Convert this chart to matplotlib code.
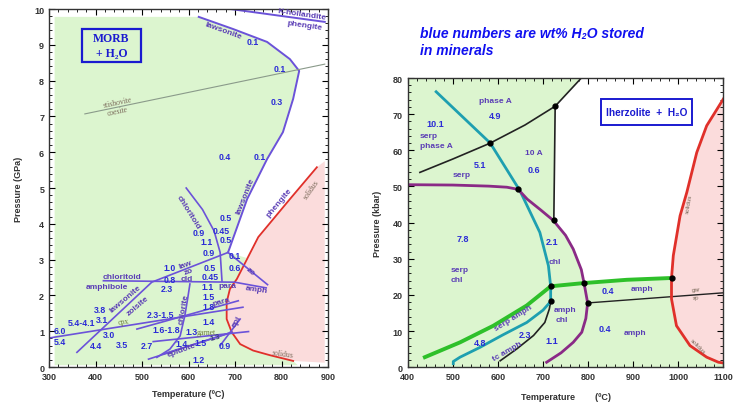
import matplotlib
matplotlib.use("Agg")
import matplotlib.pyplot as plt
from matplotlib.patches import Rectangle
from matplotlib.ticker import MultipleLocator

plt.rcParams['font.family'] = ['Liberation Sans', 'DejaVu Sans']

AZUL = '#2b2bd6'
VIOLETA = '#5a3db5'
LINEA = '#6b52d9'
ROJO = '#e0302a'
OLIVA = '#6b7a3a'
GRIS = '#7a6a5a'
VERDE_FONDO = '#dcf5cf'
ROSA_FONDO = '#fbdcdc'

# ---------------- panel izquierdo: MORB + H2O (T en ºC, P en GPa) ----------------
law_T = [622, 696, 769, 818, 838, 825, 803, 769, 726, 685]
law_P = [9.78, 9.44, 9.08, 8.60, 8.27, 7.49, 6.56, 5.81, 4.69, 3.20]
khol_T = [690, 893]
khol_P = [10.0, 9.64]
stish_T = [377, 893]
stish_P = [7.07, 8.46]
sol_T = [876, 818, 750, 726, 704, 689, 682, 682, 693, 711, 739, 775, 825]
sol_P = [5.58, 4.69, 3.63, 3.02, 2.46, 2.18, 1.81, 1.34, 0.97, 0.64, 0.46, 0.33, 0.17]

# reacciones (lineas violetas)
reac_T = [
    [300, 717],                  # cpx
    [360, 521, 685],             # lawsonita / zoisita
    [417, 699, 767],             # cloritoide / anfibol
    [685, 770],                  # zo
    [595, 630, 655, 668, 672],   # cloritoide
    [603, 598, 592, 582, 560, 532],  # clorita
    [489, 707],                  # para
    [524, 729],                  # granate
    [668, 711],                  # epi
    [514, 693],                  # epidota
    [545, 693],
]
reac_P = [
    [0.81, 1.67],
    [0.41, 2.37, 3.20],
    [2.41, 2.37, 2.21],
    [3.20, 2.30],
    [5.0, 4.4, 3.8, 3.2, 2.40],
    [2.32, 1.9, 1.43, 0.87, 0.50, 0.27],
    [1.06, 1.85],
    [0.71, 0.99],
    [0.60, 1.34],
    [0.22, 0.97],
    [0.36, 0.97],
]

# numeros azules: % en peso de H2O
num_txt = ['0.1', '0.1', '0.3', '0.4', '0.1', '0.5', '0.9', '0.45', '1.1', '0.5', '0.9', '0.1',
           '1.0', '0.5', '0.6', '0.8', '0.45', '2.3', '1.1', '1.5', '1.8', '3.8', '2.3-1.5',
           '5.4-4.1', '3.1', '1.4', '6.0', '1.6-1.8', '1.3', '5.4', '3.0', '4.4', '3.5', '2.7',
           '1.4', '1.5', '0.9', '1.2']
num_T = [739, 797, 790, 678, 754, 681, 623, 671, 638, 681, 644, 699,
         560, 646, 699, 560, 646, 553, 642, 643, 643, 410, 539,
         370, 413, 643, 323, 553, 607, 323, 430, 402, 456, 510,
         585, 625, 678, 621]
num_P = [9.08, 8.35, 7.43, 5.87, 5.87, 4.19, 3.75, 3.80, 3.51, 3.56, 3.21, 3.12,
         2.78, 2.79, 2.79, 2.44, 2.54, 2.18, 2.24, 1.98, 1.70, 1.62, 1.48,
         1.25, 1.32, 1.27, 1.02, 1.06, 0.99, 0.72, 0.91, 0.60, 0.64, 0.60,
         0.67, 0.69, 0.61, 0.22]

# nombres de minerales
lab_txt = ['lawsonite', 'K-hollandite', 'phengite', 'lawsonite', 'phengite', 'chloritoid',
           'chloritoid', 'amphibole', 'law', 'zo', 'cld', 'para', 'amph', 'zo', 'para',
           'lawsonite', 'zoisite', 'chlorite', 'epi', 'epidote']
lab_T = [674, 845, 850, 722, 795, 599,
         456, 425, 592, 600, 596, 684, 747, 732, 670,
         463, 492, 589, 704, 585]
lab_P = [9.40, 9.85, 9.56, 4.80, 4.60, 4.33,
         2.53, 2.25, 2.88, 2.69, 2.46, 2.27, 2.18, 2.69, 1.83,
         1.93, 1.72, 1.62, 1.29, 0.48]
lab_rot = [-20, -8, -8, 68, 50, -58,
           0, 0, 20, 20, 0, 0, -8, -40, 15,
           40, 40, 80, 60, 20]

# ---------------- panel derecho: lherzolita + H2O (T en ºC, P en kbar) ----------------
faseA_T = [427, 500, 583, 660, 727, 785]
faseA_P = [53.9, 57.6, 62.0, 67.0, 72.2, 80.0]
vert_T = [727, 724]
vert_P = [72.2, 40.6]
serp_T = [463, 523, 583, 649, 693, 712, 717]
serp_P = [76.2, 69.1, 62.0, 48.8, 37.3, 28.1, 22.4]
tc_T = [501, 501, 516, 560, 610, 664, 700, 717, 717]
tc_P = [1.0, 1.6, 2.8, 5.5, 8.9, 12.4, 15.8, 18.2, 22.4]
anf_T = [438, 516, 590, 664, 717, 791, 886, 985]
anf_P = [2.8, 6.9, 11.5, 17.1, 22.4, 23.3, 24.2, 24.7]
neg_T = [605, 642, 679, 704, 714, 717]
neg_P = [1.8, 5.1, 8.8, 12.4, 16.1, 18.2]
gar_T = [799, 1100]
gar_P = [17.8, 20.6]
chl_T = [400, 500, 580, 620, 645, 665, 695, 723, 750, 767, 785, 791, 799, 795, 786, 767, 740, 708]
chl_P = [50.5, 50.4, 50.1, 49.8, 49.2, 46.5, 43.5, 40.6, 36.5, 32.7, 27.0, 23.3, 17.8, 13.5, 9.7, 6.9, 4.0, 1.4]
solR_T = [1100, 1063, 1041, 1019, 1004, 989, 985, 985, 996, 1026, 1063, 1089, 1100]
solR_P = [74.2, 66.8, 59.4, 48.4, 41.9, 30.9, 24.7, 18.9, 11.5, 6.0, 2.8, 1.4, 1.2]
pto_T = [583, 727, 724, 645, 717, 717, 791, 799, 985]
pto_P = [62.0, 72.2, 40.6, 49.2, 22.4, 18.2, 23.3, 17.8, 24.7]

numR_txt = ['4.9', '10.1', '0.6', '5.1', '7.8', '2.1', '0.4', '4.8', '2.3', '1.1', '0.4']
numR_T = [594, 461, 679, 560, 523, 719, 843, 560, 660, 719, 838]
numR_P = [69.6, 67.3, 54.7, 56.2, 35.5, 34.7, 21.2, 6.9, 9.2, 7.4, 10.6]

labR_txt = ['phase A', 'serp', 'phase A', '10 A', 'serp', 'serp', 'chl', 'chl', 'amph',
            'amph', 'chl', 'serp amph', 'tc amph', 'amph']
labR_T = [594, 446, 464, 679, 520, 516, 509, 727, 919, 749, 741, 634, 620, 904]
labR_P = [73.7, 64.1, 61.3, 59.3, 53.2, 27.0, 24.2, 29.2, 21.7, 16.1, 13.2, 13.8, 4.6, 9.7]
labR_rot = [0, 0, 0, 0, 0, 0, 0, 0, 0, 0, 0, 32, 30, 0]


def ejes(ax):
    ax.tick_params(which='both', direction='in', top=True, right=True, labelsize=6.5)
    ax.tick_params(which='major', length=4, width=0.8)
    ax.tick_params(which='minor', length=2, width=0.6)
    for lbl in ax.get_xticklabels() + ax.get_yticklabels():
        lbl.set_fontweight('bold')
        lbl.set_color('#333333')
    for s in ax.spines.values():
        s.set_linewidth(1.0)
        s.set_color('#333333')


fig = plt.figure(figsize=(7.34, 4.10), dpi=100)

# ======================= izquierda =======================
ax1 = fig.add_axes([0.0668, 0.1024, 0.3801, 0.8732])
ax1.set_xlim(300, 900)
ax1.set_ylim(0, 10)

# zona verde
gT = [312, 312, 622] + law_T[1:] + [724] + sol_T[4:] + [835]
gP = [0.05, 9.78, 9.78] + law_P[1:] + [3.05] + sol_P[4:] + [0.05]
ax1.fill(gT, gP, color=VERDE_FONDO, lw=0, zorder=0)
# zona rosa (fusion)
pT = sol_T + [893, 893]
pP = sol_P + [0.12, 5.75]
ax1.fill(pT, pP, color=ROSA_FONDO, lw=0, zorder=0)

ax1.plot(law_T, law_P, color=LINEA, lw=1.4)
ax1.plot(khol_T, khol_P, color=LINEA, lw=1.4)
ax1.plot(stish_T, stish_P, color='#8a9a8a', lw=0.8)
ax1.plot(sol_T, sol_P, color=ROJO, lw=1.3)
for xs, ys in zip(reac_T, reac_P):
    ax1.plot(xs, ys, color=LINEA, lw=1.2)

for t, x, y in zip(num_txt, num_T, num_P):
    ax1.text(x, y, t, color=AZUL, fontsize=6.3, fontweight='bold', ha='center', va='center')
ax1.text(657, 0.83, '1.3', color='#3a3a80', fontsize=5.5, fontweight='bold', rotation=15,
         ha='center', va='center')
for t, x, y, r in zip(lab_txt, lab_T, lab_P, lab_rot):
    ax1.text(x, y, t, color=VIOLETA, fontsize=6, fontweight='bold', rotation=r,
             ha='center', va='center', rotation_mode='anchor')
ax1.text(460, 1.29, 'cpx', color=OLIVA, fontsize=5.5, rotation=8, ha='center', va='center',
         family=['Liberation Serif', 'DejaVu Serif'])
ax1.text(639, 0.99, 'garnet', color=OLIVA, fontsize=5.5, ha='center', va='center',
         family=['Liberation Serif', 'DejaVu Serif'])
ax1.text(448, 7.40, 'stishovite', color=GRIS, fontsize=5.5, rotation=12, ha='center', va='center',
         family=['Liberation Serif', 'DejaVu Serif'])
ax1.text(448, 7.16, 'coesite', color=GRIS, fontsize=5.5, rotation=12, ha='center', va='center',
         family=['Liberation Serif', 'DejaVu Serif'])
ax1.text(865, 4.97, 'solidus', color=GRIS, fontsize=5.5, rotation=55, ha='center', va='center',
         family=['Liberation Serif', 'DejaVu Serif'])
ax1.text(803, 0.37, 'solidus', color=GRIS, fontsize=5.5, rotation=-8, ha='center', va='center',
         family=['Liberation Serif', 'DejaVu Serif'])

ax1.add_patch(Rectangle((371, 8.52), 127, 0.92, fill=False, ec='#1a1ad0', lw=1.6, zorder=5))
ax1.text(434, 9.18, 'MORB', color='#1a1ad0', fontsize=8.5, fontweight='bold', ha='center', va='center',
         family=['Liberation Serif', 'DejaVu Serif'])
ax1.text(434, 8.78, '+ H₂O', color='#1a1ad0', fontsize=8.5, fontweight='bold', ha='center', va='center',
         family=['Liberation Serif', 'DejaVu Serif'])

ax1.xaxis.set_major_locator(MultipleLocator(100))
ax1.xaxis.set_minor_locator(MultipleLocator(20))
ax1.yaxis.set_major_locator(MultipleLocator(1))
ax1.yaxis.set_minor_locator(MultipleLocator(0.2))
ax1.set_xlabel('Temperature (ºC)', fontsize=6.5, fontweight='bold', color='#333333', labelpad=6)
ax1.set_ylabel('Pressure (GPa)', fontsize=6.5, fontweight='bold', color='#333333', labelpad=8)
ejes(ax1)

# ======================= derecha =======================
ax2 = fig.add_axes([0.5555, 0.1017, 0.4300, 0.7056])
ax2.set_xlim(400, 1100)
ax2.set_ylim(0, 80)

vT = [400, 400] + faseA_T[::-1][:2] + vert_T[1:] + chl_T[7:12] + anf_T[5:] + solR_T[6:] + [1100]
vP = [0, 80] + faseA_P[::-1][:2] + vert_P[1:] + chl_P[7:12] + anf_P[5:] + solR_P[6:] + [0]
ax2.fill(vT, vP, color=VERDE_FONDO, lw=0, zorder=0)
ax2.fill(solR_T + [1100], solR_P + [74.2], color=ROSA_FONDO, lw=0, zorder=0)

ax2.plot(faseA_T, faseA_P, color='#222222', lw=1.2)
ax2.plot(vert_T, vert_P, color='#222222', lw=1.2)
ax2.plot(neg_T, neg_P, color='#222222', lw=1.2)
ax2.plot(gar_T, gar_P, color='#222222', lw=1.0)
ax2.plot(serp_T, serp_P, color='#1e9fb0', lw=2.0)
ax2.plot(tc_T, tc_P, color='#1e9fb0', lw=2.0)
ax2.plot(chl_T, chl_P, color='#8a2a86', lw=2.0)
ax2.plot(anf_T, anf_P, color='#2ec02a', lw=2.8)
ax2.plot(solR_T, solR_P, color=ROJO, lw=2.0)
ax2.plot(pto_T, pto_P, 'o', color='black', ms=3.5, zorder=6)

for t, x, y in zip(numR_txt, numR_T, numR_P):
    ax2.text(x, y, t, color=AZUL, fontsize=6.5, fontweight='bold', ha='center', va='center')
for t, x, y, r in zip(labR_txt, labR_T, labR_P, labR_rot):
    ax2.text(x, y, t, color=VIOLETA, fontsize=6, fontweight='bold', rotation=r,
             ha='center', va='center', rotation_mode='anchor')
ax2.text(1039, 21.6, 'gar', color=GRIS, fontsize=4.5, rotation=5, ha='center', va='center')
ax2.text(1039, 19.3, 'sp', color=GRIS, fontsize=4.5, rotation=5, ha='center', va='center')
ax2.text(1043, 6.0, 'solidus', color=GRIS, fontsize=4.5, rotation=-45, ha='center', va='center')
ax2.text(1024, 45.5, 'solidus', color=GRIS, fontsize=4.5, rotation=80, ha='center', va='center')

ax2.add_patch(Rectangle((828, 67.0), 202, 7.2, fill=False, ec='#1a1ad0', lw=1.4, zorder=5))
ax2.text(929, 70.6, 'lherzolite  +  H₂O', color='#1a1ad0', fontsize=7.3, fontweight='bold',
         ha='center', va='center')

ax2.xaxis.set_major_locator(MultipleLocator(100))
ax2.xaxis.set_minor_locator(MultipleLocator(20))
ax2.yaxis.set_major_locator(MultipleLocator(10))
ax2.yaxis.set_minor_locator(MultipleLocator(2))
ax2.set_xlabel('Temperature        (ºC)', fontsize=6.5, fontweight='bold', color='#333333', labelpad=8)
ax2.set_ylabel('Pressure (kbar)', fontsize=6.5, fontweight='bold', color='#333333', labelpad=8)
ejes(ax2)

fig.text(0.572, 0.935, 'blue numbers are wt% H₂O stored\nin minerals', color='#1010f0',
         fontsize=10, fontweight='bold', style='italic', ha='left', va='top', linespacing=1.3)

fig.savefig('out.png', dpi=100)
